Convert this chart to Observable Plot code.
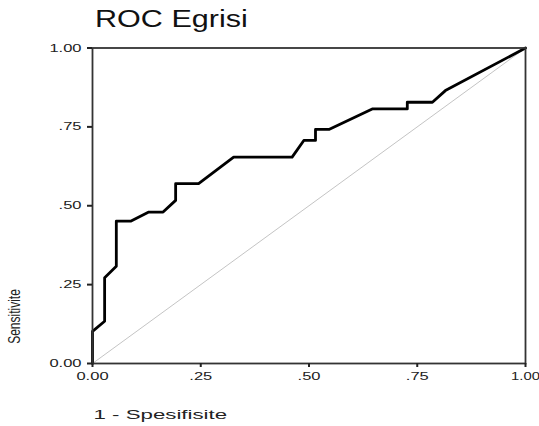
<!DOCTYPE html>
<html>
<head>
<meta charset="utf-8">
<script src="https://cdn.jsdelivr.net/npm/d3@7"></script>
<script src="https://cdn.jsdelivr.net/npm/@observablehq/plot@0.6"></script>
<style>
  html, body { margin: 0; padding: 0; background: #fff; }
  #wrap { width: 539px; height: 426px; position: relative; overflow: hidden; }
  #title { height: 40px; box-sizing: border-box; padding-top: 7px; padding-left: 95px;
           font-family: "Liberation Sans", Arial, sans-serif; font-size: 23.5px; line-height: 24px;
           color: #111; white-space: nowrap; }
  #title span { display: inline-block; transform: scaleX(1.3); transform-origin: left center; }
  svg { display: block; }
</style>
</head>
<body>
<div id="wrap">
  <div id="title"><span>ROC Egrisi</span></div>
  <div id="chart"></div>
</div>
<script>
const titleText = "ROC Egrisi";
const xLabel = "1 - Spesifisite";
const yLabel = "Sensitivite";

// ROC curve: 1 - specificity (false positive rate) and sensitivity
const fpr = [0, 0, 0.028, 0.028, 0.055, 0.055, 0.088, 0.130, 0.163, 0.192, 0.192, 0.245, 0.326, 0.461, 0.488, 0.515, 0.515, 0.546, 0.646, 0.727, 0.727, 0.785, 0.815, 1];
const tpr = [0, 0.102, 0.134, 0.272, 0.308, 0.451, 0.451, 0.480, 0.480, 0.517, 0.570, 0.570, 0.654, 0.654, 0.707, 0.707, 0.742, 0.742, 0.807, 0.807, 0.828, 0.828, 0.865, 1];

// reference diagonal
const diagX = [0, 1];
const diagY = [0, 1];

const tickValues = [0, 0.25, 0.5, 0.75, 1];
const tickLabels = ["0.00", ".25", ".50", ".75", "1.00"];

const curve = fpr.map((x, i) => ({x, y: tpr[i]}));
const diag = diagX.map((x, i) => ({x, y: diagY[i]}));
const fmt = v => tickLabels[tickValues.indexOf(v)];

const chart = Plot.plot({
  width: 539,
  height: 386,
  marginLeft: 92,
  marginRight: 14,
  marginTop: 7.5,
  marginBottom: 63,
  style: {fontFamily: "'Liberation Sans', Arial, sans-serif", fontSize: "11px", color: "#222", background: "white", overflow: "visible"},
  x: {domain: [0, 1]},
  y: {domain: [0, 1]},
  marks: [
    Plot.line(diag, {x: "x", y: "y", stroke: "#c4c4c4", strokeWidth: 1}),
    Plot.line(curve, {x: "x", y: "y", stroke: "#000", strokeWidth: 2.8, strokeLinejoin: "round"}),
    Plot.frame({stroke: "#333", strokeWidth: 1.8}),
    Plot.axisX({ticks: tickValues, tickFormat: fmt, tickSize: 4, tickPadding: 5, label: null, stroke: "#222", strokeWidth: 2, fill: "#222", fontSize: 11}),
    Plot.axisY({ticks: tickValues, tickFormat: fmt, tickSize: 5, tickPadding: 6, label: null, stroke: "#222", strokeWidth: 2, fill: "#222", fontSize: 11}),
    Plot.text([xLabel], {frameAnchor: "bottom-left", dx: 1, dy: 55, textAnchor: "start", lineAnchor: "bottom", fontSize: 13.5, fill: "#222"}),
    Plot.text([yLabel], {frameAnchor: "bottom-left", dx: -73, dy: -47, rotate: -90, textAnchor: "middle", fontSize: 12, fill: "#222"})
  ]
});
document.getElementById("chart").appendChild(chart);

function stretchEl(el, sx, sy) {
  let t = el.getAttribute("transform");
  if (!t) {
    const x = el.getAttribute("x") || 0, y = el.getAttribute("y") || 0;
    el.removeAttribute("x"); el.removeAttribute("y");
    t = `translate(${x},${y})`;
  }
  el.setAttribute("transform", `${t} scale(${sx},${sy})`);
}
chart.querySelectorAll("text").forEach(el => {
  const s = el.textContent;
  if (s === xLabel) stretchEl(el, 1.65, 1);
  else if (s === yLabel) stretchEl(el, 1, 1.3);
  else if (s === "1.00" && el.closest('g[aria-label="x-axis tick label"]')) stretchEl(el, 1.35, 1);
  else if (tickLabels.includes(s)) stretchEl(el, 1.5, 1);
});
</script>
</body>
</html>
